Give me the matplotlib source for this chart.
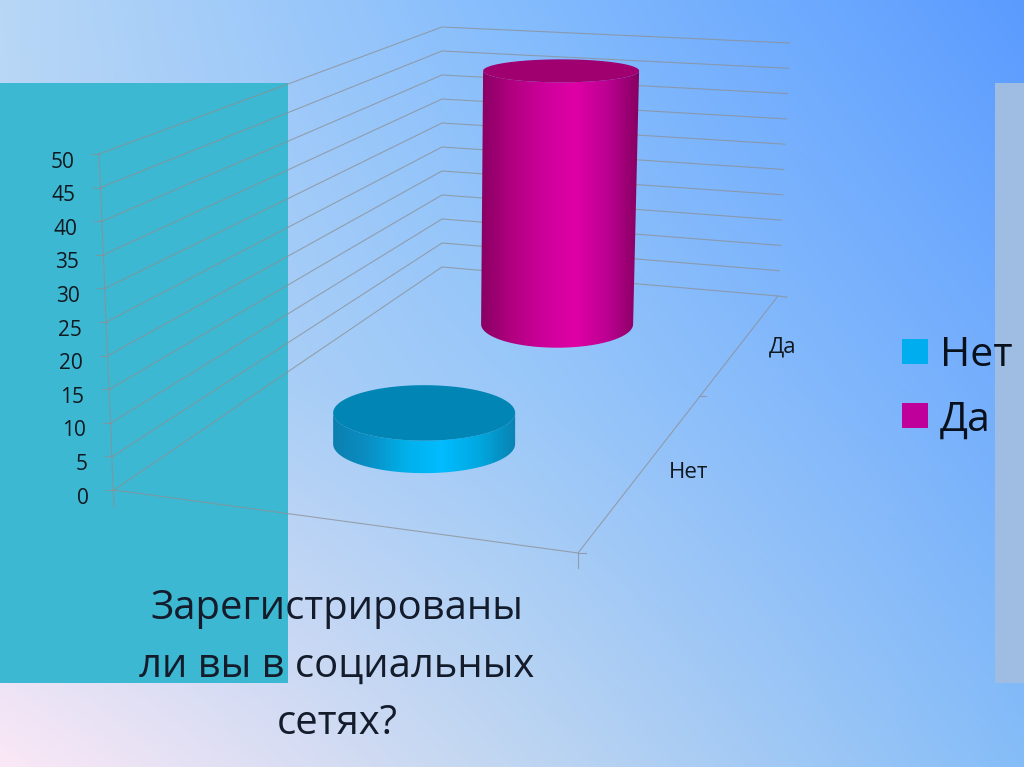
import numpy as np
import matplotlib
matplotlib.use('Agg')
import matplotlib.pyplot as plt
from matplotlib.colors import LinearSegmentedColormap, to_rgb
from matplotlib.patches import Polygon, Rectangle

plt.rcParams['font.family'] = ['Open Sans', 'DejaVu Sans']

# chart data
categories = ['Нет', 'Да']
values = [5, 47]
y_ticks = [0, 5, 10, 15, 20, 25, 30, 35, 40, 45, 50]
title_lines = ['Зарегистрированы', 'ли вы в социальных', 'сетях?']

# corners of the 3d box in picture pixels
front_left = np.array([114, 490])
front_right = np.array([578, 553])
back_left = np.array([442, 267])
back_right = np.array([778, 296])
y_max = 50


def left_edge(v):
    return np.array([114 - 15 * v / y_max, 490 - 336 * v / y_max])


def back_corner(v):
    return np.array([442, 267 - 240 * v / y_max])


def right_edge(v):
    return np.array([778 + 12 * v / y_max, 296 - 253 * v / y_max])


def floor_point(u, d):
    front = front_left + (front_right - front_left) * u
    back = back_left + (back_right - back_left) * u
    return front + (back - front) * d


def ellipse_h(y):
    # ellipses get flatter higher up in the picture
    return 11.5 + (y - 71) * 0.0475


fig = plt.figure(figsize=(10.24, 7.67), dpi=100)
ax = fig.add_axes([0, 0, 1, 1])

# background, blended from a few colours
bg_top = np.array([to_rgb('#b8d7f6'), to_rgb('#84bcfd'), to_rgb('#5b9bff')])
bg_mid = np.array([to_rgb('#bcd6f3'), to_rgb('#9ac8f9'), to_rgb('#72adfd')])
bg_low = np.array([to_rgb('#fbe8f6'), to_rgb('#c0d6f1'), to_rgb('#85bdf8')])
bg_small = np.stack([bg_top, bg_mid, bg_low])
xs = np.linspace(0, 2, 512)
ys = np.linspace(0, 2, 384)
bg = np.zeros((384, 512, 3))
for ch in range(3):
    rows = np.array([np.interp(xs, [0, 1, 2], bg_small[r, :, ch]) for r in range(3)])
    for col in range(512):
        bg[:, col, ch] = np.interp(ys, [0, 1, 2], rows[:, col])
ax.imshow(bg, extent=[0, 1024, 767, 0], interpolation='bilinear', aspect='auto', zorder=0)
ax.add_patch(Rectangle((0, 83), 288, 600, color='#3db8d2', zorder=1, lw=0))
ax.add_patch(Rectangle((995, 83), 29, 600, color='#9fbce3', zorder=1, lw=0))

# grid lines on the walls
grid = dict(color='#8c8f94', lw=0.8, alpha=0.75, zorder=2)
for v in y_ticks:
    a = left_edge(v)
    b = back_corner(v)
    c = right_edge(v)
    ax.plot([a[0] - 8, a[0]], [a[1], a[1]], **grid)
    ax.plot([a[0], b[0], c[0]], [a[1], b[1], c[1]], **grid)
    ax.text(a[0] - 25, a[1] + 8, str(v), ha='right', va='center', fontsize=15,
            color='#101820', zorder=5)

# axis lines
top = left_edge(y_max)
ax.plot([top[0], front_left[0]], [top[1], front_left[1] + 17], **grid)
ax.plot([front_left[0], front_right[0], back_right[0], back_right[0] + 9],
        [front_left[1], front_right[1], back_right[1], back_right[1] + 1], **grid)
ax.plot([front_right[0], front_right[0]], [front_right[1], front_right[1] + 15], **grid)
ax.plot([front_right[0], front_right[0] + 8], [front_right[1], front_right[1]], **grid)
mid = front_right + (back_right - front_right) * 0.61
ax.plot([mid[0], mid[0] + 6], [mid[1], mid[1]], **grid)

# cylinders
bar_depth = [0.32, 0.82]
bar_width = [91, 76]
bar_shift = [0, 4]
px_per_unit = [6.2, 5.39]
side_colors = [
    ['#0a7fae', '#0a8fc4', '#00b0ea', '#00bcff', '#00a8e0', '#0a82b2'],
    ['#85005f', '#b0007f', '#cc009a', '#e000a6', '#bc0092', '#85005f'],
]
top_colors = ['#0085b5', '#a0006f']
legend_colors = ['#00aeef', '#c0009a']
t = np.linspace(0, np.pi, 60)

for i in range(len(categories)):
    base = floor_point(0.485, bar_depth[i])
    cx, y0 = base
    y1 = y0 - values[i] * px_per_unit[i]
    rx0 = bar_width[i]
    rx1 = bar_width[i] + (2 if i == 1 else 0)
    cx1 = cx + bar_shift[i]
    h0 = ellipse_h(y0)
    h1 = ellipse_h(y1)

    bx = cx + rx0 * np.cos(t)
    by = y0 + h0 * np.sin(t)
    tx = cx1 - rx1 * np.cos(t)
    ty = y1 + h1 * np.sin(t)
    body = Polygon(np.column_stack([np.r_[bx, tx], np.r_[by, ty]]), closed=True,
                   transform=ax.transData, facecolor='none', edgecolor='none')
    ax.add_patch(body)
    cmap = LinearSegmentedColormap.from_list('side', side_colors[i])
    shade = np.linspace(0, 1, 256).reshape(1, -1)
    im = ax.imshow(shade, cmap=cmap, aspect='auto', zorder=3,
                   extent=[min(cx, cx1) - max(rx0, rx1) - 1, max(cx, cx1) + max(rx0, rx1) + 1,
                           y0 + h0 + 1, y1 - 1])
    im.set_clip_path(body)

    full = np.linspace(0, 2 * np.pi, 120)
    ax.fill(cx1 + rx1 * np.cos(full), y1 + h1 * np.sin(full), color=top_colors[i], lw=0, zorder=4)

# category labels next to the floor
ax.text(783, 347, categories[1], ha='center', va='center', fontsize=16, color='#101820', zorder=5)
ax.text(689, 472, categories[0], ha='center', va='center', fontsize=16, color='#101820', zorder=5)

# legend
legend_y = [339, 403]
for i in range(len(categories)):
    ax.add_patch(Rectangle((902, legend_y[i]), 26, 25, color=legend_colors[i], lw=0, zorder=5))
    ax.text(940, legend_y[i] + 17, categories[i], ha='left', va='center', fontsize=29.5,
            color='#08101c', zorder=5)

# title under the chart
title_y = [609, 667, 724]
for line, y in zip(title_lines, title_y):
    ax.text(337, y, line, ha='center', va='center', fontsize=28.8, color='#141c2c', zorder=5)

ax.set_xlim(0, 1024)
ax.set_ylim(767, 0)
ax.axis('off')
fig.savefig('out.png', dpi=100)
